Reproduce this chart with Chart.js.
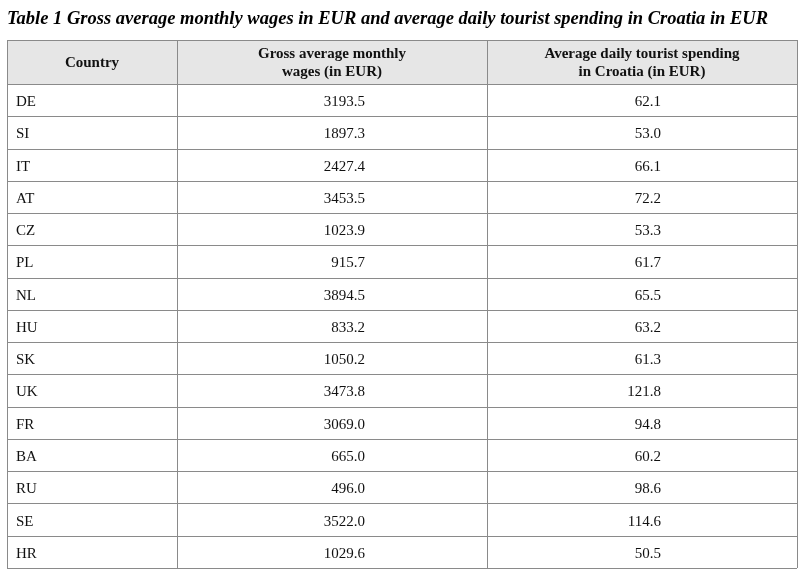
<!DOCTYPE html>
<html>
<head>
<meta charset="utf-8">
<script src="https://cdn.jsdelivr.net/npm/chart.js@4/dist/chart.umd.min.js"></script>
<style>
  body { margin: 0; background: #fff; }
  #wrap { width: 804px; height: 577px; position: relative; }
</style>
</head>
<body>
<div id="wrap"><canvas id="tbl" width="804" height="577"></canvas></div>
<script>
// table data
const countries = ['DE', 'SI', 'IT', 'AT', 'CZ', 'PL', 'NL', 'HU', 'SK', 'UK', 'FR', 'BA', 'RU', 'SE', 'HR'];
const wages = [3193.5, 1897.3, 2427.4, 3453.5, 1023.9, 915.7, 3894.5, 833.2, 1050.2, 3473.8, 3069.0, 665.0, 496.0, 3522.0, 1029.6];
const spending = [62.1, 53.0, 66.1, 72.2, 53.3, 61.7, 65.5, 63.2, 61.3, 121.8, 94.8, 60.2, 98.6, 114.6, 50.5];
const headers = ['Country', ['Gross average monthly', 'wages (in EUR)'], ['Average daily tourist spending', 'in Croatia (in EUR)']];
const title = 'Table 1 Gross average monthly wages in EUR and average daily tourist spending in Croatia in EUR';

// column layout (x scale units 0..790)
const colEdges = [0, 170, 480, 790];
const numRight = [null, 358, 654];
const headerH = 44;
const SERIF = '"Liberation Serif", "DejaVu Serif", serif';

const tablePlugin = {
    id: 'tableDraw',
    afterDatasetsDraw: function(chart) {
        const ctx = chart.ctx;
        const xs = chart.scales.x;
        const area = chart.chartArea;
        const band = (area.bottom - area.top) / countries.length;
        const left = xs.getPixelForValue(colEdges[0]);
        const right = xs.getPixelForValue(colEdges[3]);
        const top = area.top - headerH;

        ctx.save();
        // title
        ctx.fillStyle = '#000';
        ctx.font = 'italic bold 18.5px ' + SERIF;
        ctx.textBaseline = 'middle';
        ctx.textAlign = 'left';
        ctx.fillText(title, 7, 19);

        // header background
        ctx.fillStyle = '#e6e6e6';
        ctx.fillRect(left, top, right - left, headerH);

        // grid lines
        ctx.strokeStyle = '#8a8a8a';
        ctx.lineWidth = 1;
        ctx.beginPath();
        ctx.moveTo(left, top + 0.5); ctx.lineTo(right, top + 0.5);
        for (let i = 0; i <= countries.length; i++) {
            const y = Math.round(area.top + i * band) + 0.5;
            ctx.moveTo(left, y); ctx.lineTo(right, y);
        }
        colEdges.forEach(function(v) {
            const x = Math.round(xs.getPixelForValue(v)) + 0.5;
            ctx.moveTo(x, top); ctx.lineTo(x, area.bottom);
        });
        ctx.stroke();

        // headers
        ctx.fillStyle = '#111';
        ctx.font = 'bold 15px ' + SERIF;
        ctx.textAlign = 'center';
        headers.forEach(function(h, i) {
            const cx = (xs.getPixelForValue(colEdges[i]) + xs.getPixelForValue(colEdges[i + 1])) / 2;
            const lines = Array.isArray(h) ? h : [h];
            lines.forEach(function(t, j) {
                ctx.fillText(t, cx, top + headerH / 2 + 1 + (j - (lines.length - 1) / 2) * 18);
            });
        });

        // body
        ctx.font = '15px ' + SERIF;
        const m0 = chart.getDatasetMeta(0);
        const m1 = chart.getDatasetMeta(1);
        countries.forEach(function(c, i) {
            const y = (m0.data[i].y + m1.data[i].y) / 2 + 2;
            ctx.textAlign = 'left';
            ctx.fillText(c, left + 9, y);
            ctx.textAlign = 'right';
            ctx.fillText(chart.data.datasets[0].data[i].toFixed(1), xs.getPixelForValue(numRight[1]), y);
            ctx.fillText(chart.data.datasets[1].data[i].toFixed(1), xs.getPixelForValue(numRight[2]), y);
        });
        ctx.restore();
    }
};

new Chart(document.getElementById('tbl'), {
    type: 'bar',
    data: {
        labels: countries,
        datasets: [
            { label: 'wages', data: wages, backgroundColor: 'rgba(0,0,0,0)' },
            { label: 'spending', data: spending, backgroundColor: 'rgba(0,0,0,0)' }
        ]
    },
    options: {
        indexAxis: 'y',
        responsive: false,
        animation: false,
        events: [],
        layout: { padding: { top: 84, left: 7, right: 7, bottom: 9 } },
        plugins: { legend: { display: false }, tooltip: { enabled: false } },
        scales: {
            x: { type: 'linear', min: 0, max: 790, display: false },
            y: { display: false }
        }
    },
    plugins: [tablePlugin]
});
</script>
</body>
</html>
